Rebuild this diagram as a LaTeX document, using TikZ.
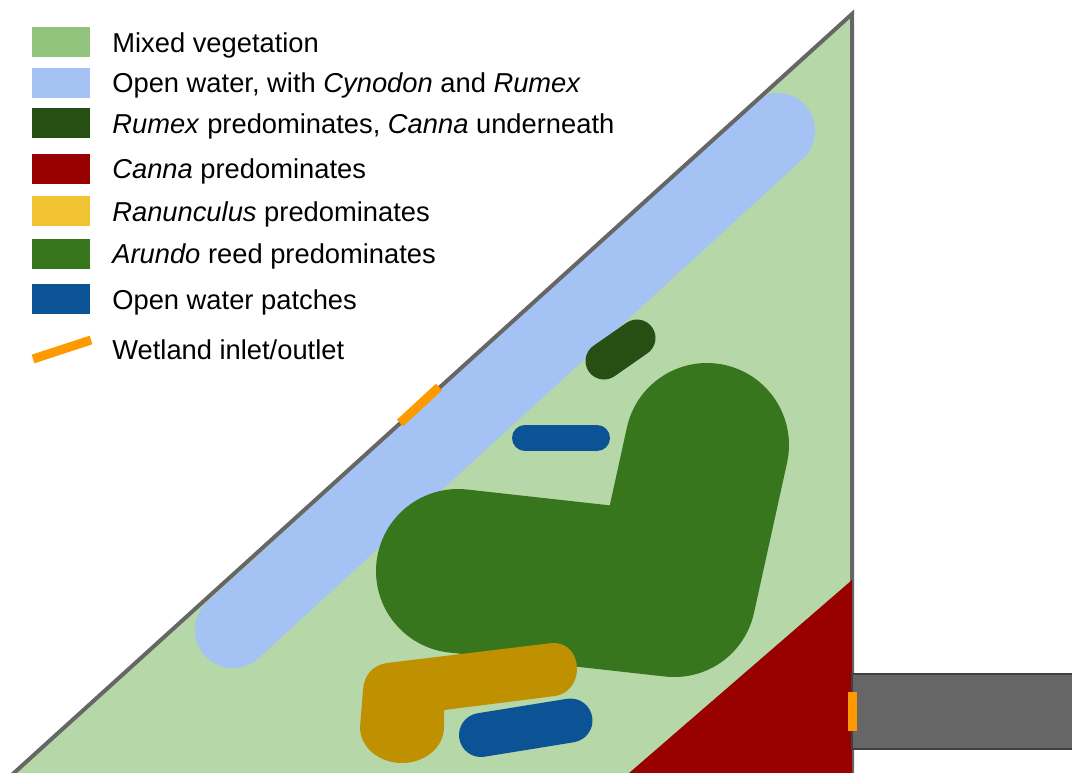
\documentclass[tikz,border=0pt]{standalone}
\usepackage{fontspec}
\setmainfont{Liberation Sans}
\usepackage{xcolor}
\definecolor{mixedveg}{HTML}{93C47D}
\definecolor{mixedarea}{HTML}{B6D7A8}
\definecolor{openwater}{HTML}{A4C2F4}
\definecolor{rumexgreen}{HTML}{274E13}
\definecolor{cannared}{HTML}{990000}
\definecolor{ranyellow}{HTML}{F1C232}
\definecolor{ranarea}{HTML}{BF9000}
\definecolor{arundogreen}{HTML}{38761D}
\definecolor{patchblue}{HTML}{0B5394}
\definecolor{inletorange}{HTML}{FF9900}
\definecolor{bankgrey}{HTML}{666666}
\tikzset{
  swatch/.style={minimum width=1.17cm, minimum height=0.6cm, inner sep=0pt},
  legendtext/.style={anchor=base west, inner sep=0pt, font=\fontsize{15.55}{20}\selectfont},
  capsule/.style={line cap=round, line join=round},
  inlet/.style={draw=inletorange, line width=0.18cm},
  bank/.style={draw=bankgrey, line width=0.08cm}
}
\begin{document}
\begin{tikzpicture}[x=0.02cm,y=-0.02cm]
\useasboundingbox (0,0) rectangle (1072,772);
\clip (0,0) rectangle (1072,772);

% wetland and banks
\fill[mixedarea] (852,14) -- (6.2,780) -- (852,780) -- cycle;
\draw[capsule, draw=openwater, line width=1.52cm] (777,131) -- (233,630);
\draw[bank, line join=miter] (6.2,780) -- (852,14) -- (852,780);
\fill[cannared] (852,580) -- (621,780) -- (852,780) -- cycle;

% outflow channel
\draw[fill=bankgrey, draw=black!75, line width=0.03cm] (852,674) rectangle (1090,749);

% vegetation zones
\draw[capsule, draw=arundogreen, line width=3.28cm] (458,571) -- (674,595) -- (707,445);
\draw[capsule, draw=rumexgreen, line width=0.74cm] (604,361) -- (637,338);
\draw[capsule, draw=patchblue, line width=0.52cm] (525,438) -- (597,438);
\draw[capsule, draw=patchblue, line width=0.88cm] (481,735) -- (570.5,720.5);
\fill[ranarea] (387,663) -- (552,643) .. controls (568,642) and (577,655) .. (577,669)
  .. controls (577,683) and (568,694) .. (555,696) -- (444,710) -- (444,727)
  .. controls (444,748) and (424,763) .. (402,763) .. controls (380,763) and (360,748) .. (360,727)
  -- (363,690) .. controls (364,675) and (373,665) .. (387,663) -- cycle;

% inlet and outlet
\draw[inlet] (400,423) -- (439,387);
\fill[inletorange] (847.5,692) rectangle (856.5,731);

% legend
\node[swatch, fill=mixedveg] (swmixed) at (61,42) {};
\node[swatch, fill=openwater] (swwater) at (61,83) {};
\node[swatch, fill=rumexgreen] (swrumex) at (61,123) {};
\node[swatch, fill=cannared] (swcanna) at (61,169) {};
\node[swatch, fill=ranyellow] (swran) at (61,211) {};
\node[swatch, fill=arundogreen] (swarundo) at (61,254) {};
\node[swatch, fill=patchblue] (swpatch) at (61,299) {};
\coordinate (swinleta) at (33,359);
\coordinate (swinletb) at (91,340);
\draw[inlet] (swinleta) -- (swinletb);

\node[legendtext] (txmixed) at (112,52) {Mixed vegetation};
\node[legendtext] (txwater) at (112,92) {Open water, with \textit{Cynodon} and \textit{Rumex}};
\node[legendtext] (txrumex) at (112,133) {\textit{Rumex} predominates, \textit{Canna} underneath};
\node[legendtext] (txcanna) at (112,178) {\textit{Canna} predominates};
\node[legendtext] (txran) at (112,221) {\textit{Ranunculus} predominates};
\node[legendtext] (txarundo) at (112,263) {\textit{Arundo} reed predominates};
\node[legendtext] (txpatch) at (112,309) {Open water patches};
\node[legendtext] (txinlet) at (112,359) {Wetland inlet/outlet};
\end{tikzpicture}
\end{document}
